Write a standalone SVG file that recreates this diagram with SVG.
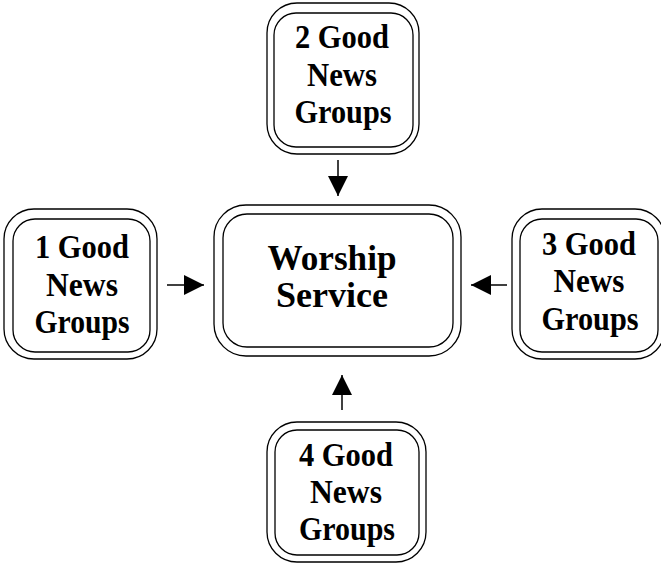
<svg xmlns="http://www.w3.org/2000/svg" width="661" height="573" viewBox="0 0 661 573">
<style>
.b{fill:none;stroke:#000;stroke-width:1.3}
.t{font-family:"Liberation Serif","Times New Roman",serif;font-weight:bold;font-size:33px;text-anchor:middle;fill:#000}
.c{font-size:36px}
.l{stroke:#000;stroke-width:1.5;fill:none}
</style>
<defs>
<marker id="ah" markerWidth="20" markerHeight="20" refX="20" refY="10" orient="auto" markerUnits="userSpaceOnUse">
<path d="M0,0 L20,10 L0,20 Z" fill="#000"/>
</marker>
</defs>
<rect width="661" height="573" fill="#fff"/>
<g id="n2">
<rect class="b" x="267" y="3" width="152" height="151" rx="30"/>
<rect class="b" x="274" y="13" width="139" height="134" rx="22"/>
<text class="t" x="342" y="48" textLength="94" lengthAdjust="spacingAndGlyphs">2 Good</text>
<text class="t" x="342" y="86" textLength="70" lengthAdjust="spacingAndGlyphs">News</text>
<text class="t" x="343" y="123" textLength="97" lengthAdjust="spacingAndGlyphs">Groups</text>
</g>
<g id="n1">
<rect class="b" x="4" y="209" width="153" height="150" rx="30"/>
<rect class="b" x="13" y="219" width="137" height="133" rx="22"/>
<text class="t" x="82" y="258" textLength="94" lengthAdjust="spacingAndGlyphs">1 Good</text>
<text class="t" x="82" y="296" textLength="72" lengthAdjust="spacingAndGlyphs">News</text>
<text class="t" x="82" y="333" textLength="95" lengthAdjust="spacingAndGlyphs">Groups</text>
</g>
<g id="center">
<rect class="b" x="214" y="205" width="247" height="151" rx="32"/>
<rect class="b" x="223" y="214" width="230" height="133" rx="24"/>
<text class="t c" x="332" y="270" textLength="129" lengthAdjust="spacingAndGlyphs">Worship</text>
<text class="t c" x="332" y="307" textLength="112" lengthAdjust="spacingAndGlyphs">Service</text>
</g>
<g id="n3">
<rect class="b" x="512" y="209" width="153" height="150" rx="30"/>
<rect class="b" x="520" y="219" width="138" height="133" rx="22"/>
<text class="t" x="589" y="255" textLength="94" lengthAdjust="spacingAndGlyphs">3 Good</text>
<text class="t" x="589" y="292" textLength="71" lengthAdjust="spacingAndGlyphs">News</text>
<text class="t" x="590" y="330" textLength="97" lengthAdjust="spacingAndGlyphs">Groups</text>
</g>
<g id="n4">
<rect class="b" x="267" y="422" width="159" height="140" rx="30"/>
<rect class="b" x="275" y="430" width="144" height="125" rx="22"/>
<text class="t" x="346" y="466" textLength="94" lengthAdjust="spacingAndGlyphs">4 Good</text>
<text class="t" x="346" y="503" textLength="72" lengthAdjust="spacingAndGlyphs">News</text>
<text class="t" x="347" y="540" textLength="96" lengthAdjust="spacingAndGlyphs">Groups</text>
</g>
<g id="connectors">
<line class="l" x1="338" y1="160" x2="338" y2="196" marker-end="url(#ah)"/>
<line class="l" x1="167" y1="285" x2="204" y2="285" marker-end="url(#ah)"/>
<line class="l" x1="507" y1="285" x2="471" y2="285" marker-end="url(#ah)"/>
<line class="l" x1="342" y1="410" x2="342" y2="375" marker-end="url(#ah)"/>
</g>
</svg>
